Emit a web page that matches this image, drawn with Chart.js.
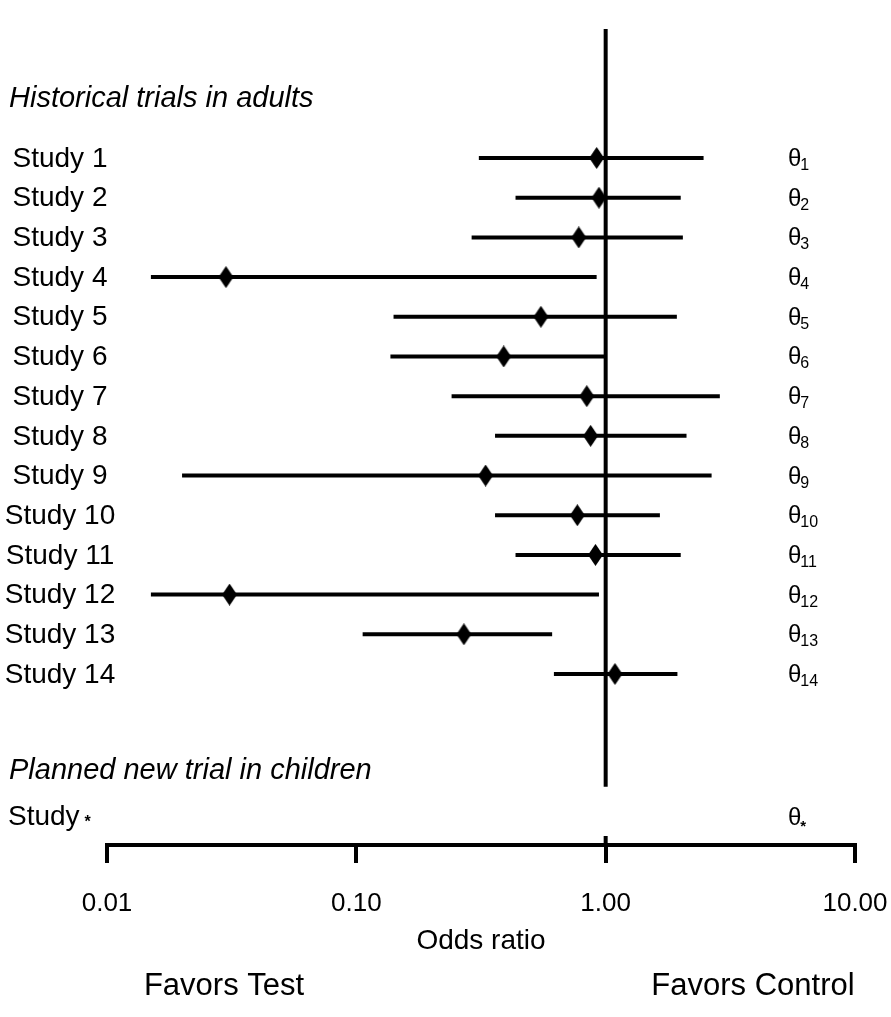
<!DOCTYPE html>
<html>
<head>
<meta charset="utf-8">
<script src="https://cdn.jsdelivr.net/npm/chart.js@4.4.1/dist/chart.umd.min.js"></script>
<style>
  html, body { margin: 0; padding: 0; background: #fff; }
  #wrap { width: 891px; height: 1017px; }
</style>
</head>
<body>
<div id="wrap"><canvas id="forest" width="891" height="1017"></canvas></div>
<script>
// study rows (odds ratio, log scale)
const studies = ['Study 1', 'Study 2', 'Study 3', 'Study 4', 'Study 5', 'Study 6', 'Study 7',
  'Study 8', 'Study 9', 'Study 10', 'Study 11', 'Study 12', 'Study 13', 'Study 14'];
const thetaSubs = ['1', '2', '3', '4', '5', '6', '7', '8', '9', '10', '11', '12', '13', '14'];
const orPoint = [0.92, 0.94, 0.78, 0.030, 0.55, 0.39, 0.84, 0.87, 0.33, 0.77, 0.91, 0.031, 0.27, 1.09];
const ciLow   = [0.31, 0.435, 0.29, 0.015, 0.141, 0.137, 0.241, 0.36, 0.020, 0.36, 0.435, 0.015, 0.106, 0.62];
const ciHigh  = [2.47, 2.00, 2.04, 0.92, 1.93, 1.00, 2.87, 2.11, 2.66, 1.65, 2.00, 0.94, 0.61, 1.94];
const xTicks = [0.01, 0.1, 1, 10];

const headerRows = [{ text: 'Historical trials in adults', row: -0.5 },
  { text: 'Planned new trial in children', row: 16.45 }];
const newStudy = { label: 'Study', sub: '*', row: 17.6 };
const refLine = [-2.25, 16.84]; // vertical line at OR = 1 (row range)
const refTick = [18.08, 18.31];

const FONT = "'Liberation Sans', Arial, sans-serif";

function diamond(w, h) {
  const c = document.createElement('canvas');
  c.width = w; c.height = h;
  const g = c.getContext('2d');
  g.beginPath();
  g.moveTo(w / 2, 0); g.lineTo(w, h / 2); g.lineTo(w / 2, h); g.lineTo(0, h / 2);
  g.closePath();
  g.fillStyle = '#000';
  g.fill();
  return c;
}

const datasets = [];
studies.forEach((s, i) => {
  datasets.push({
    label: s,
    data: [{ x: ciLow[i], y: i + 1 }, { x: ciHigh[i], y: i + 1 }],
    showLine: true, borderColor: '#000', borderWidth: 4, pointRadius: 0, borderCapStyle: 'butt'
  });
});
datasets.push({
  label: 'ref',
  data: refLine.map(r => ({ x: 1, y: r })),
  showLine: true, borderColor: '#000', borderWidth: 4, pointRadius: 0
});
datasets.push({
  label: 'refTick',
  data: refTick.map(r => ({ x: 1, y: r })),
  showLine: true, borderColor: '#000', borderWidth: 4, pointRadius: 0
});
datasets.push({
  label: 'OR',
  data: orPoint.map((v, i) => ({ x: v, y: i + 1 })),
  pointStyle: diamond(15, 22), pointRadius: 8, showLine: false
});

const textPlugin = {
  id: 'rowText',
  afterDraw(chart) {
    const { ctx, scales: { y } } = chart;
    ctx.save();
    ctx.fillStyle = '#000';
    ctx.textBaseline = 'middle';

    // left study labels
    ctx.font = '28px ' + FONT;
    ctx.textAlign = 'center';
    studies.forEach((s, i) => ctx.fillText(s, 60, y.getPixelForValue(i + 1) + 1));

    // headers
    ctx.font = 'italic 29px ' + FONT;
    ctx.textAlign = 'left';
    headerRows.forEach(h => ctx.fillText(h.text, 9, y.getPixelForValue(h.row)));

    // Study *
    ctx.font = '28px ' + FONT;
    const sy = y.getPixelForValue(newStudy.row);
    ctx.fillText(newStudy.label, 8, sy);
    const sw = ctx.measureText(newStudy.label).width;
    ctx.font = 'bold 16px ' + FONT;
    ctx.fillText(newStudy.sub, 8 + sw + 5, sy + 6);

    // theta labels on the right
    ctx.textBaseline = 'alphabetic';
    const drawTheta = (sub, py) => {
      ctx.font = '24px ' + FONT;
      ctx.fillText('\u03B8', 788, py + 8);
      const tw = ctx.measureText('\u03B8').width;
      ctx.font = sub === '*' ? 'bold 15px ' + FONT : '16px ' + FONT;
      ctx.fillText(sub, 788 + tw - 1, py + (sub === '*' ? 14 : 12));
    };
    thetaSubs.forEach((t, i) => drawTheta(t, y.getPixelForValue(i + 1)));
    drawTheta('*', sy);

    // favours labels
    ctx.font = '31px ' + FONT;
    ctx.textAlign = 'center';
    ctx.textBaseline = 'middle';
    ctx.fillText('Favors Test', 224, 986);
    ctx.fillText('Favors Control', 753, 986);
    ctx.restore();
  }
};

new Chart(document.getElementById('forest'), {
  type: 'scatter',
  data: { datasets },
  options: {
    responsive: false,
    animation: false,
    layout: { autoPadding: false, padding: { left: 107, right: 36, top: 0, bottom: 52 } },
    plugins: { legend: { display: false }, tooltip: { enabled: false } },
    scales: {
      x: {
        type: 'logarithmic',
        position: 'bottom',
        min: 0.01,
        max: 10,
        afterBuildTicks: s => { s.ticks = xTicks.map(v => ({ value: v })); },
        afterFit: s => { s.paddingLeft = 0; s.paddingRight = 0; s.height = 120; },
        ticks: {
          callback: v => Number(v).toFixed(2),
          font: { family: FONT, size: 26 },
          color: '#000',
          padding: 25,
          maxRotation: 0,
          autoSkip: false
        },
        grid: { drawOnChartArea: false, drawTicks: true, tickLength: 18, lineWidth: 4, color: '#000' },
        border: { display: true, color: '#000', width: 4 },
        title: {
          display: true, text: 'Odds ratio', color: '#000',
          font: { family: FONT, size: 28 }, padding: { top: 0, bottom: 7 }
        }
      },
      y: {
        type: 'linear',
        display: false,
        reverse: true,
        min: 1 - 158 / 39.69,
        max: 1 + 687 / 39.69
      }
    }
  },
  plugins: [textPlugin]
});
</script>
</body>
</html>
